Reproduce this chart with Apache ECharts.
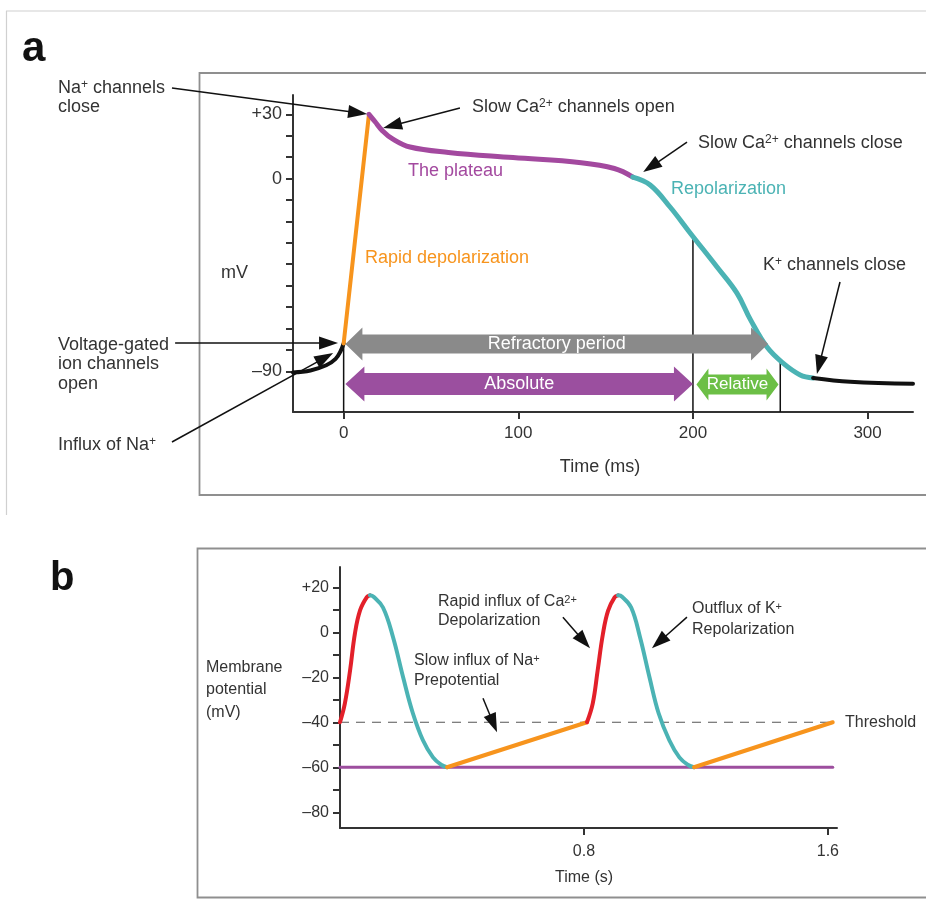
<!DOCTYPE html>
<html>
<head>
<meta charset="utf-8">
<script src="https://cdn.jsdelivr.net/npm/echarts@6/dist/echarts.min.js"></script>
<style>
html, body { margin: 0; padding: 0; background: #fff; }
#container { width: 926px; height: 901px; }
</style>
</head>
<body>
<div id="container"></div>
<script>
// ---- panel a : ventricular action potential (time ms, mV) ----
var restBefore = [[-29, -90.5], [-19, -89.6], [-10, -87.2], [-4.6, -84.2], [-1.7, -80.5], [0, -77]];
var rapidDepol = [[0, -77], [14.5, 30]];
var plateau = [[14.5, 30], [18, 26.5], [22, 22.5], [28, 18.5], [38, 14.7], [60, 12.2], [97, 9.8], [136, 7.4], [155, 4.7], [165.6, 0.7]];
var repol = [[165.6, 0.7], [175.5, -3], [186.9, -13.3], [198.4, -25.4], [213.8, -41.3], [225.2, -53.5], [233, -66], [242.4, -78.7], [251.6, -86.2], [261.4, -91.7], [268.8, -93.1]];
var restAfter = [[268.8, -93.1], [290, -94.9], [326, -95.8]];
var markTimes = [0, 200, 250];
var markTops = [-77, -27, -85];
var aTicksY = [-90, -80, -70, -60, -50, -40, -30, -20, -10, 0, 10, 20, 30];
var aLabelsY = [-90, 0, 30];
var aTicksX = [0, 100, 200, 300];
// refractory arrows: [start, end, level]
var periodNames = ['Refractory period', 'Absolute', 'Relative'];
var periods = [[1, 243, -77.3], [1, 200, -95.9], [202, 249, -96.2]];
// annotation pointers: [tailT, tailV, tipT, tipV]
var aPointers = [
  [-98.3, 42.3, 13.4, 30.1],
  [66.6, 32.9, 22.6, 23.6],
  [196.6, 17, 171.5, 3],
  [284.2, -48.3, 271, -91.3],
  [-96.5, -76.8, -3.2, -76.8],
  [-98.3, -123, -6, -81.5]
];

// ---- panel b : pacemaker potential (time s, mV) ----
var red1 = [[0, -40], [0.016, -31.6], [0.033, -17], [0.049, -0.5], [0.066, 9.8], [0.088, 15.6], [0.098, 16.4]];
var teal1 = [[0.098, 16.4], [0.11, 15.8], [0.141, 11], [0.174, -2.2], [0.207, -20], [0.239, -36], [0.272, -48], [0.305, -55.6], [0.333, -59], [0.351, -60]];
var orange1 = [[0.351, -60], [0.81, -40]];
var red2 = [[0.81, -40], [0.829, -31.6], [0.845, -17], [0.862, -1], [0.879, 9.5], [0.901, 15.6], [0.912, 16.4]];
var teal2 = [[0.912, 16.4], [0.925, 15.8], [0.955, 11], [0.984, -2.2], [1.015, -20], [1.045, -36], [1.08, -48], [1.113, -55.6], [1.142, -59], [1.161, -60]];
var orange2 = [[1.161, -60], [1.616, -40]];
var restLine = [[0, -60], [1.616, -60]];
var thresholdLine = [[0, -40], [1.616, -40]];
var bTicksY = [-80, -70, -60, -50, -40, -30, -20, -10, 0, 10, 20];
var bLabelsY = [-80, -60, -40, -20, 0, 20];
var bTicksX = [0.8, 1.6];
var bPointers = [
  [0.731, 6.7, 0.82, -7.1],
  [1.138, 6.7, 1.023, -7.1],
  [0.469, -29.3, 0.515, -44.4]
];

var FONT = 'Liberation Sans, Arial, sans-serif';
var TXT = '#333';
var ORANGE = '#f7941d', PLUM = '#a3499f', TEAL = '#4bb3b4', RED = '#e3202a';

var dom = document.getElementById('container');
var myChart = echarts.init(dom, null, { renderer: 'canvas' });

function signed(v) {
  if (v > 0) return '+' + v;
  if (v < 0) return '\u2013' + Math.abs(v);
  return '0';
}

function axisCommon(ticks, labels, fmt, size, margin) {
  return {
    axisLine: { onZero: false, lineStyle: { color: '#333', width: 2 } },
    axisTick: { show: true, length: 7, customValues: ticks, lineStyle: { color: '#333', width: 2 } },
    axisLabel: { customValues: labels, formatter: fmt, color: TXT, fontSize: size, fontFamily: FONT, margin: margin },
    splitLine: { show: false }
  };
}

function renderPointer(params, api) {
  var p1 = api.coord([api.value(0), api.value(1)]);
  var p2 = api.coord([api.value(2), api.value(3)]);
  var dx = p2[0] - p1[0], dy = p2[1] - p1[1];
  var len = Math.sqrt(dx * dx + dy * dy);
  var ux = dx / len, uy = dy / len, hl = 19, hw = 6.5;
  var bx = p2[0] - ux * hl, by = p2[1] - uy * hl;
  return {
    type: 'group',
    children: [
      { type: 'line', shape: { x1: p1[0], y1: p1[1], x2: bx + ux * 2, y2: by + uy * 2 }, style: { stroke: '#111', lineWidth: 1.5 } },
      { type: 'polygon', shape: { points: [p2, [bx - uy * hw, by + ux * hw], [bx + uy * hw, by - ux * hw]] }, style: { fill: '#111' } }
    ]
  };
}

var periodLook = [
  { color: '#8a8a8a', head: 17, headHalf: 16.5, bodyHalf: 9.5, size: 18 },
  { color: '#9b4f9f', head: 19, headHalf: 17.5, bodyHalf: 11, size: 18 },
  { color: '#6cbf46', head: 12, headHalf: 16, bodyHalf: 10, size: 17 }
];

function renderPeriod(params, api) {
  var i = params.dataIndex;
  var look = periodLook[i];
  var a = api.coord([api.value(0), api.value(2)]);
  var b = api.coord([api.value(1), api.value(2)]);
  var y = a[1], x0 = a[0], x1 = b[0];
  var h = look.head, H = look.headHalf, B = look.bodyHalf;
  var pts = [[x0, y], [x0 + h, y - H], [x0 + h, y - B], [x1 - h, y - B], [x1 - h, y - H], [x1, y],
    [x1 - h, y + H], [x1 - h, y + B], [x0 + h, y + B], [x0 + h, y + H]];
  return {
    type: 'group',
    children: [
      { type: 'polygon', shape: { points: pts }, style: { fill: look.color } },
      { type: 'text', x: (x0 + x1) / 2, y: y, style: { text: periodNames[i], fill: '#fff', fontSize: look.size, fontFamily: FONT, align: 'center', verticalAlign: 'middle' } }
    ]
  };
}

function curve(data, color, width, xi, smooth) {
  return {
    type: 'line', xAxisIndex: xi, yAxisIndex: xi, data: data, showSymbol: false, symbol: 'none',
    smooth: smooth ? 0.4 : false,
    lineStyle: { color: color, width: width, cap: 'round', join: 'round' }, z: 5, silent: true
  };
}

var markSeries = markTimes.map(function (t, k) {
  return {
    type: 'line', xAxisIndex: 0, yAxisIndex: 0, data: [[t, markTops[k]], [t, -109]],
    showSymbol: false, symbol: 'none', lineStyle: { color: '#111', width: 1.5 }, z: 2, silent: true
  };
});

// text with {s|...} superscript pieces
function txt(text, x, y, opt) {
  opt = opt || {};
  var size = opt.size || 18;
  var color = opt.color || TXT;
  return {
    type: 'text', x: x, y: y, z: 100,
    style: {
      text: text, fill: color, fontSize: size, fontFamily: FONT,
      fontWeight: opt.weight || 'normal', align: opt.align || 'left', verticalAlign: 'middle',
      rich: {
        s: { fontSize: Math.round(size * 0.68), fontFamily: FONT, fill: color, verticalAlign: 'top', lineHeight: size }
      }
    }
  };
}

var texts = [
  txt('a', 22, 49, { size: 42, weight: 'bold', color: '#111' }),
  txt('Na{s|+} channels', 58, 88),
  txt('close', 58, 107),
  txt('Slow Ca{s|2+} channels open', 472, 107),
  txt('Slow Ca{s|2+} channels close', 698, 143),
  txt('The plateau', 408, 171, { color: PLUM }),
  txt('Repolarization', 671, 189, { color: TEAL }),
  txt('Rapid depolarization', 365, 258, { color: ORANGE }),
  txt('mV', 221, 273),
  txt('K{s|+} channels close', 763, 265),
  txt('Voltage-gated', 58, 345),
  txt('ion channels', 58, 364),
  txt('open', 58, 384),
  txt('Influx of Na{s|+}', 58, 445),
  txt('Time (ms)', 600, 467, { align: 'center' }),
  txt('b', 50, 579, { size: 40, weight: 'bold', color: '#111' }),
  txt('Membrane', 206, 668, { size: 16 }),
  txt('potential', 206, 690, { size: 16 }),
  txt('(mV)', 206, 713, { size: 16 }),
  txt('Rapid influx of Ca{s|2+}', 438, 602, { size: 16 }),
  txt('Depolarization', 438, 621, { size: 16 }),
  txt('Slow influx of Na{s|+}', 414, 661, { size: 16 }),
  txt('Prepotential', 414, 681, { size: 16 }),
  txt('Outflux of K{s|+}', 692, 609, { size: 16 }),
  txt('Repolarization', 692, 630, { size: 16 }),
  txt('Threshold', 845, 723, { size: 16 }),
  txt('Time (s)', 584, 878, { size: 16, align: 'center' })
];

var frames = [
  { type: 'line', shape: { x1: 6, y1: 11, x2: 930, y2: 11 }, style: { stroke: '#d0d0d0', lineWidth: 1.2 }, z: 0 },
  { type: 'line', shape: { x1: 6.5, y1: 11, x2: 6.5, y2: 515 }, style: { stroke: '#d0d0d0', lineWidth: 1.2 }, z: 0 },
  { type: 'rect', shape: { x: 199.5, y: 73, width: 740, height: 422 }, style: { fill: null, stroke: '#8f8f8f', lineWidth: 1.8 }, z: 0 },
  { type: 'rect', shape: { x: 197.5, y: 548.5, width: 740, height: 349 }, style: { fill: null, stroke: '#8f8f8f', lineWidth: 1.8 }, z: 0 }
];

option = {
  animation: false,
  backgroundColor: '#fff',
  grid: [
    { left: 293, top: 95, width: 620, height: 317, containLabel: false, outerBoundsMode: 'none' },
    { left: 340, top: 567, width: 497, height: 261, containLabel: false, outerBoundsMode: 'none' }
  ],
  xAxis: [
    Object.assign({ type: 'value', gridIndex: 0, min: -29, max: 326 }, axisCommon(aTicksX, aTicksX, function (v) { return String(v); }, 17, 13)),
    Object.assign({ type: 'value', gridIndex: 1, min: 0, max: 1.63 }, axisCommon(bTicksX, bTicksX, function (v) { return v.toFixed(1); }, 16, 16))
  ],
  yAxis: [
    Object.assign({ type: 'value', gridIndex: 0, min: -109, max: 39 }, axisCommon(aTicksY, aLabelsY, signed, 18, 11)),
    Object.assign({ type: 'value', gridIndex: 1, min: -87, max: 29 }, axisCommon(bTicksY, bLabelsY, signed, 16, 11))
  ],
  graphic: { elements: frames.concat(texts) },
  series: [
    curve(restBefore, '#111', 4, 0, true),
    curve(rapidDepol, ORANGE, 4, 0, false),
    curve(plateau, PLUM, 5, 0, true),
    curve(repol, TEAL, 5, 0, true),
    curve(restAfter, '#111', 4, 0, true),
    {
      type: 'custom', xAxisIndex: 0, yAxisIndex: 0, data: periods, renderItem: renderPeriod,
      encode: { x: [0, 1], y: 2 }, z: 8, silent: true, clip: false
    },
    {
      type: 'custom', xAxisIndex: 0, yAxisIndex: 0, data: aPointers, renderItem: renderPointer,
      encode: { x: [0, 2], y: [1, 3] }, z: 9, silent: true, clip: false
    },
    curve(restLine, '#9d4e9e', 3, 1, false),
    {
      type: 'line', xAxisIndex: 1, yAxisIndex: 1, data: thresholdLine, showSymbol: false, symbol: 'none',
      lineStyle: { color: '#555', width: 1.2, type: [9, 7] }, z: 3, silent: true
    },
    curve(red1, RED, 4, 1, true),
    curve(teal1, TEAL, 4, 1, true),
    curve(orange1, ORANGE, 4, 1, false),
    curve(red2, RED, 4, 1, true),
    curve(teal2, TEAL, 4, 1, true),
    curve(orange2, ORANGE, 4, 1, false),
    {
      type: 'custom', xAxisIndex: 1, yAxisIndex: 1, data: bPointers, renderItem: renderPointer,
      encode: { x: [0, 2], y: [1, 3] }, z: 9, silent: true, clip: false
    }
  ].concat(markSeries)
};

window.onresize = function () {
  myChart.resize();
};
if (option && typeof option === 'object') {
  myChart.setOption(option, true);
}
</script>
</body>
</html>
